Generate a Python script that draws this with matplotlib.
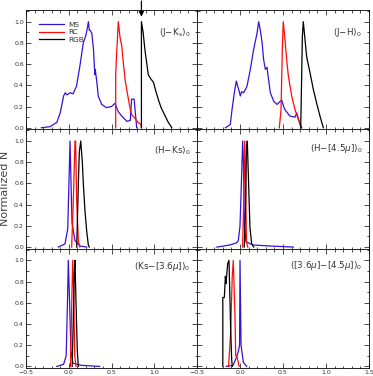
import matplotlib
matplotlib.use("Agg")
import matplotlib.pyplot as plt
from matplotlib.ticker import MultipleLocator

# colours of the three populations
ms_color = "#3a10d8"
rc_color = "#ff0a0a"
rgb_color = "black"

# (J-Ks)0
jk_ms_x = [-0.32, -0.22, -0.14, -0.10, -0.06, -0.04, -0.02, 0.015, 0.05, 0.09, 0.13, 0.17, 0.20, 0.215,
           0.23, 0.24, 0.25, 0.27, 0.29, 0.305, 0.31, 0.33, 0.345, 0.385, 0.44, 0.50, 0.54, 0.58, 0.62,
           0.68, 0.72, 0.735, 0.765, 0.78, 0.795]
jk_ms_y = [0.0, 0.01, 0.05, 0.14, 0.30, 0.33, 0.31, 0.33, 0.32, 0.39, 0.58, 0.80, 0.87, 0.93,
           1.0, 0.92, 0.92, 0.89, 0.73, 0.50, 0.55, 0.42, 0.30, 0.22, 0.19, 0.20, 0.23, 0.15, 0.11,
           0.06, 0.07, 0.27, 0.27, 0.13, 0.0]
jk_rc_x = [0.549, 0.549, 0.56, 0.58, 0.60, 0.62, 0.64, 0.66, 0.68, 0.70, 0.72, 0.74, 0.775, 0.81, 0.845, 0.85]
jk_rc_y = [0.0, 0.5, 0.7, 1.0, 0.85, 0.77, 0.60, 0.45, 0.35, 0.26, 0.17, 0.12, 0.09, 0.05, 0.03, 0.0]
jk_rgb_x = [0.85, 0.85, 0.87, 0.89, 0.91, 0.93, 0.96, 0.99, 1.02, 1.05, 1.08, 1.11, 1.14, 1.165, 1.19, 1.205]
jk_rgb_y = [0.0, 1.0, 0.90, 0.74, 0.62, 0.50, 0.46, 0.43, 0.34, 0.26, 0.19, 0.14, 0.09, 0.05, 0.02, 0.0]

# (J-H)0
jh_ms_x = [-0.17, -0.113, -0.093, -0.066, -0.043, -0.03, -0.015, 0.004, 0.02, 0.043, 0.081, 0.12, 0.159,
           0.198, 0.217, 0.236, 0.256, 0.275, 0.295, 0.314, 0.333, 0.353, 0.392, 0.43, 0.47, 0.485,
           0.508, 0.523, 0.581, 0.64, 0.66, 0.698, 0.717]
jh_ms_y = [0.0, 0.03, 0.17, 0.33, 0.44, 0.40, 0.36, 0.30, 0.34, 0.33, 0.39, 0.55, 0.74,
           0.89, 1.0, 0.92, 0.81, 0.64, 0.55, 0.57, 0.45, 0.33, 0.25, 0.22, 0.25, 0.26,
           0.20, 0.17, 0.11, 0.10, 0.14, 0.03, 0.0]
jh_rc_x = [0.457, 0.477, 0.492, 0.503, 0.523, 0.543, 0.562, 0.601, 0.64, 0.678, 0.717]
jh_rc_y = [0.0, 0.17, 0.74, 1.0, 0.83, 0.64, 0.49, 0.30, 0.17, 0.08, 0.0]
jh_rgb_x = [0.706, 0.717, 0.725, 0.736, 0.756, 0.775, 0.814, 0.853, 0.892, 0.93, 0.969]
jh_rgb_y = [0.0, 0.48, 0.86, 1.0, 0.83, 0.67, 0.52, 0.36, 0.23, 0.11, 0.0]

# (H-Ks)0
hk_ms_x = [-0.122, -0.044, -0.012, 0.003, 0.015, 0.026, 0.038, 0.073, 0.132, 0.21]
hk_ms_y = [0.0, 0.03, 0.17, 0.63, 1.0, 0.63, 0.23, 0.06, 0.01, 0.0]
hk_rc_x = [0.034, 0.053, 0.073, 0.08, 0.093, 0.112, 0.13]
hk_rc_y = [0.0, 0.43, 1.0, 1.0, 0.43, 0.06, 0.0]
hk_rgb_x = [0.093, 0.112, 0.124, 0.14, 0.159, 0.171, 0.19, 0.21, 0.229, 0.24]
hk_rgb_y = [0.0, 0.59, 0.90, 1.0, 0.80, 0.59, 0.34, 0.15, 0.02, 0.0]

# (H-[4.5])0
h45_ms_x = [-0.27, -0.116, -0.04, -0.02, 0.0, 0.02, 0.031, 0.04, 0.05, 0.07, 0.15, 0.35, 0.62]
h45_ms_y = [0.0, 0.02, 0.04, 0.06, 0.20, 0.70, 1.0, 0.80, 0.20, 0.05, 0.02, 0.01, 0.0]
h45_rc_x = [0.03, 0.045, 0.055, 0.065, 0.075, 0.09]
h45_rc_y = [0.0, 0.5, 1.0, 0.6, 0.05, 0.0]
h45_rgb_x = [0.05, 0.065, 0.075, 0.085, 0.10, 0.116, 0.136, 0.16]
h45_rgb_y = [0.0, 0.4, 0.9, 1.0, 0.6, 0.18, 0.03, 0.0]

# (Ks-[3.6])0
k36_ms_x = [-0.14, -0.06, -0.03, -0.015, -0.005, 0.01, 0.025, 0.05, 0.15, 0.36]
k36_ms_y = [0.0, 0.02, 0.10, 0.60, 1.0, 0.60, 0.15, 0.03, 0.01, 0.0]
k36_rc_x = [0.02, 0.035, 0.046, 0.058, 0.07, 0.085]
k36_rc_y = [0.0, 0.6, 1.0, 0.7, 0.1, 0.0]
k36_rgb_x = [0.04, 0.055, 0.065, 0.073, 0.085, 0.10, 0.112]
k36_rgb_y = [0.0, 0.5, 0.9, 1.0, 0.6, 0.15, 0.0]

# ([3.6]-[4.5])0
c3645_ms_x = [-0.16, -0.08, -0.039, -0.02, -0.005, 0.0, 0.012, 0.039, 0.078]
c3645_ms_y = [0.0, 0.01, 0.09, 0.14, 0.20, 1.0, 0.20, 0.04, 0.0]
c3645_rc_x = [-0.133, -0.11, -0.09, -0.078, -0.058, -0.05, -0.039, -0.02, -0.01]
c3645_rc_y = [0.0, 0.3, 0.85, 1.0, 0.47, 0.10, 0.10, 0.04, 0.0]
c3645_rgb_x = [-0.20, -0.20, -0.182, -0.17, -0.163, -0.143, -0.128, -0.109, -0.097, -0.09]
c3645_rgb_y = [0.0, 0.65, 0.65, 0.85, 0.78, 0.97, 1.0, 0.37, 0.07, 0.0]

titles = ["(J\u2212K$_{\\rm s}$)$_0$", "(J\u2212H)$_0$", "(H\u2212Ks)$_0$",
          "(H\u2212[4.5$\\mu$])$_0$", "(Ks\u2212[3.6$\\mu$])$_0$", "([3.6$\\mu$]\u2212[4.5$\\mu$])$_0$"]
title_y = [0.81, 0.815, 0.82, 0.84, 0.85, 0.855]
rgb_arrow_x = 0.85

panels = [
    (jk_ms_x, jk_ms_y, jk_rc_x, jk_rc_y, jk_rgb_x, jk_rgb_y),
    (jh_ms_x, jh_ms_y, jh_rc_x, jh_rc_y, jh_rgb_x, jh_rgb_y),
    (hk_ms_x, hk_ms_y, hk_rc_x, hk_rc_y, hk_rgb_x, hk_rgb_y),
    (h45_ms_x, h45_ms_y, h45_rc_x, h45_rc_y, h45_rgb_x, h45_rgb_y),
    (k36_ms_x, k36_ms_y, k36_rc_x, k36_rc_y, k36_rgb_x, k36_rgb_y),
    (c3645_ms_x, c3645_ms_y, c3645_rc_x, c3645_rc_y, c3645_rgb_x, c3645_rgb_y),
]

fig = plt.figure(figsize=(3.73, 3.76), dpi=100)
txt_color = "#333333"

left = [26 / 373, 197 / 373]
width = [171 / 373, 172 / 373]
row_h = 119.33 / 376
bottom0 = 1 - 368 / 376

axes = []
for i, p in enumerate(panels):
    row, col = divmod(i, 2)
    ax = fig.add_axes([left[col], bottom0 + (2 - row) * row_h, width[col], row_h])
    axes.append(ax)
    ax.plot(p[0], p[1], color=ms_color, lw=0.9, label="MS")
    ax.plot(p[2], p[3], color=rc_color, lw=0.9, label="RC")
    ax.plot(p[4], p[5], color=rgb_color, lw=0.9, label="RGB")
    ax.set_xlim(-0.5, 1.5)
    ax.set_ylim(-0.015, 1.11)
    ax.xaxis.set_major_locator(MultipleLocator(0.5))
    ax.xaxis.set_minor_locator(MultipleLocator(0.1))
    ax.yaxis.set_major_locator(MultipleLocator(0.2))
    ax.yaxis.set_minor_locator(MultipleLocator(0.1))
    ax.tick_params(which="both", direction="in", top=True, right=True,
                   labelsize=4.5, labelcolor=txt_color, pad=1.5, width=0.5)
    ax.tick_params(which="major", length=3.5)
    ax.tick_params(which="minor", length=1.8)
    for s in ax.spines.values():
        s.set_linewidth(0.6)
    ax.text(0.96, title_y[i], titles[i], transform=ax.transAxes, ha="right", va="center",
            fontsize=6.3, color=txt_color)
    if col == 1:
        ax.tick_params(labelleft=False)
    if row < 2:
        ax.tick_params(labelbottom=False)
    if row == 2 and col == 0:
        ax.set_xticks([-0.5, 0.0, 0.5, 1.0, 1.5])
        ax.set_xticklabels(["\u22120.5", "0.0", "0.5", "1.0", ""])
    if row == 2 and col == 1:
        ax.set_xticks([-0.5, 0.0, 0.5, 1.0, 1.5])
        ax.set_xticklabels(["\u22120.5", "0.0", "0.5", "1.0", "1.5"])

# legend in first panel
leg = axes[0].legend(loc="upper left", bbox_to_anchor=(0.06, 0.925), frameon=False,
                     fontsize=5.3, handlelength=3.4, handletextpad=0.6, labelspacing=0.15,
                     borderaxespad=0.0)
for t in leg.get_texts():
    t.set_color(txt_color)

# arrow marking the RGB edge in (J-Ks)0
axes[0].annotate("", xy=(rgb_arrow_x, 1.02), xytext=(rgb_arrow_x, 1.22),
                 arrowprops=dict(arrowstyle="-|>", color="black", lw=0.9, mutation_scale=7),
                 annotation_clip=False)

fig.text(0.014, 0.5, "Normalized N", rotation=90, ha="center", va="center",
         fontsize=8, color="#444444")

fig.savefig("out.png", dpi=100)
